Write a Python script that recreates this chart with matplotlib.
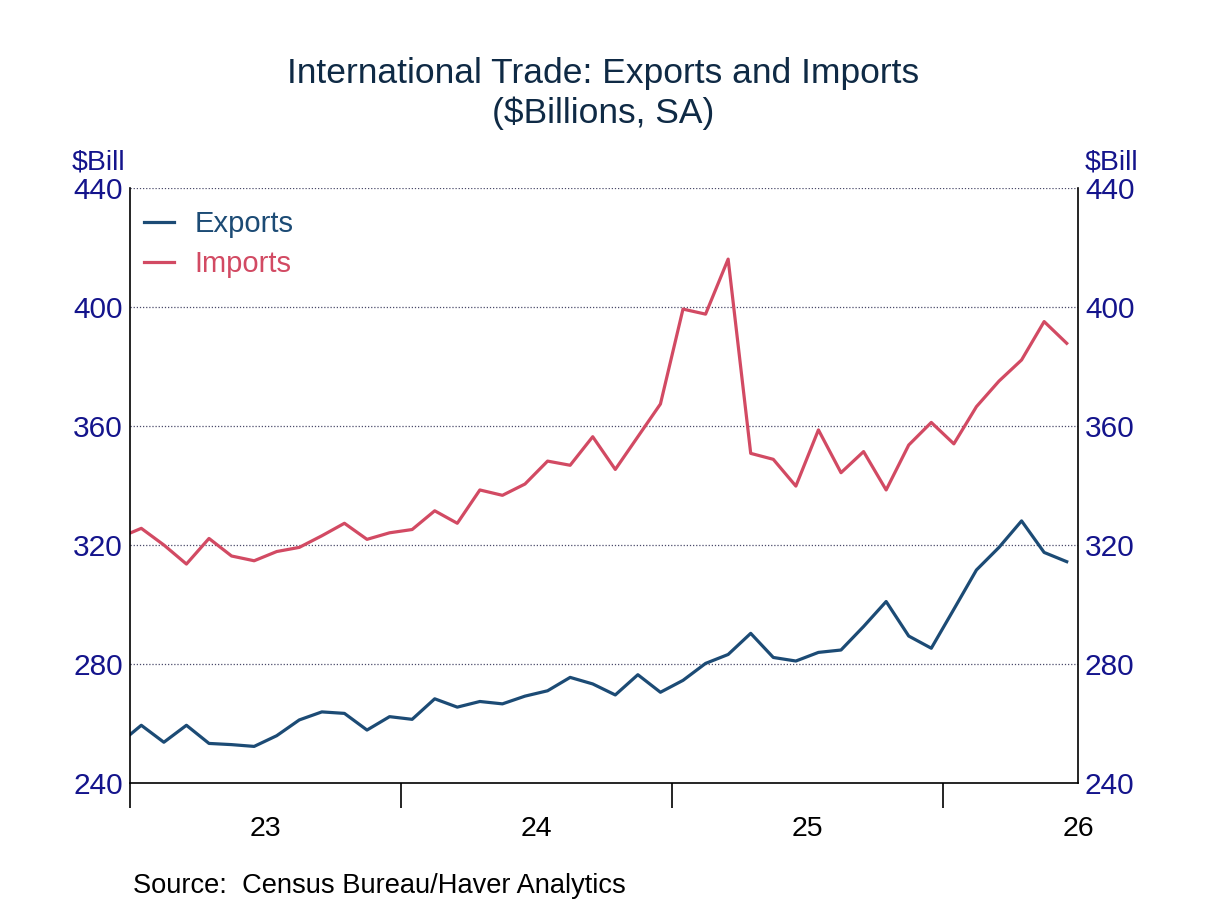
import numpy as np
import pandas as pd
import matplotlib
matplotlib.use('Agg')
import matplotlib.pyplot as plt

plt.rcParams['font.family'] = ['Liberation Sans', 'DejaVu Sans']

# Monthly data, Dec 2022 - Jun 2026 ($ billions, SA)
months = pd.period_range('2022-12', '2026-06', freq='M')
exports = [253.1,
           259.4, 253.7, 259.4, 253.3, 252.9, 252.3, 255.9, 261.2, 263.9, 263.4, 257.8, 262.3,
           261.4, 268.3, 265.5, 267.4, 266.6, 269.2, 271.0, 275.5, 273.3, 269.6, 276.4, 270.5,
           274.5, 280.2, 283.2, 290.3, 282.2, 281.0, 283.9, 284.7, 292.6, 301.0, 289.4, 285.3,
           298.4, 311.6, 319.2, 328.1, 317.5, 314.4]
imports = [322.4,
           325.6, 320.0, 313.6, 322.2, 316.3, 314.7, 317.8, 319.2, 323.1, 327.3, 321.9, 324.1,
           325.2, 331.5, 327.3, 338.5, 336.7, 340.5, 348.2, 346.8, 356.4, 345.4, 356.4, 367.4,
           399.3, 397.6, 416.1, 350.8, 348.8, 339.8, 358.7, 344.3, 351.4, 338.5, 353.6, 361.2,
           354.0, 366.5, 375.1, 382.2, 395.1, 387.8]
year_labels = ['23', '24', '25', '26']
y_ticks = [240, 280, 320, 360, 400, 440]

exp_color = '#1c4b75'
imp_color = '#d24a63'
navy = '#14148c'

# decimal-year x positions at mid-month
x = np.array([p.year + (p.month - 0.5) / 12 for p in months])

fig = plt.figure(figsize=(12.08, 9.06), dpi=100)
ax = fig.add_axes([130 / 1208, 1 - 783 / 906, 948 / 1208, 595 / 906])

ax.plot(x, exports, color=exp_color, lw=2.3, label='Exports')
ax.plot(x, imports, color=imp_color, lw=2.3, label='Imports')

ax.set_xlim(2023, 2026.5)
ax.set_ylim(240, 440)

# dotted grid
for v in y_ticks[1:]:
    ax.axhline(v, color='#4a4a6a', lw=0.9, ls=(0, (1, 1.5)), zorder=0)

ax.spines['top'].set_visible(False)
for s in ['left', 'right', 'bottom']:
    ax.spines[s].set_linewidth(1.2)
    ax.spines[s].set_color('black')

# y labels on both sides
ax.set_yticks(y_ticks)
ax.tick_params(axis='y', length=0, labelsize=21.5, labelcolor=navy, pad=5,
               labelright=True, right=False)

# x: ticks at year starts, labels at mid-year
ax.set_xticks([2023, 2024, 2025, 2026])
ax.set_xticklabels([])
ax.tick_params(axis='x', which='major', length=18, width=1.2, direction='out')
ax.set_xticks([2023.5, 2024.5, 2025.5, 2026.5], minor=True)
ax.set_xticklabels(year_labels, minor=True)
ax.tick_params(axis='x', which='minor', length=0, labelsize=20.5, pad=24)

# unit labels
fig.text(98 / 1208, 1 - 163 / 906, '$Bill', fontsize=20.5, color=navy, ha='center', va='center')
fig.text(1111 / 1208, 1 - 163 / 906, '$Bill', fontsize=20.5, color=navy, ha='center', va='center')

# title
fig.text(603 / 1208, 1 - 74 / 906, 'International Trade: Exports and Imports',
         fontsize=25.5, color='#0f2a45', ha='center', va='center')
fig.text(603 / 1208, 1 - 113 / 906, '($Billions, SA)',
         fontsize=25.5, color='#0f2a45', ha='center', va='center')

# source
fig.text(133 / 1208, 1 - 886 / 906, 'Source:  Census Bureau/Haver Analytics',
         fontsize=19.6, color='black', ha='left', va='center')

leg = ax.legend(loc='upper left', bbox_to_anchor=(14 / 948, 0.963), frameon=False,
                borderaxespad=0, borderpad=0, fontsize=21, handlelength=1.03,
                handletextpad=0.69, labelspacing=0.42)
for txt, c in zip(leg.get_texts(), [exp_color, imp_color]):
    txt.set_color(c)

fig.savefig('out.png', dpi=100)
